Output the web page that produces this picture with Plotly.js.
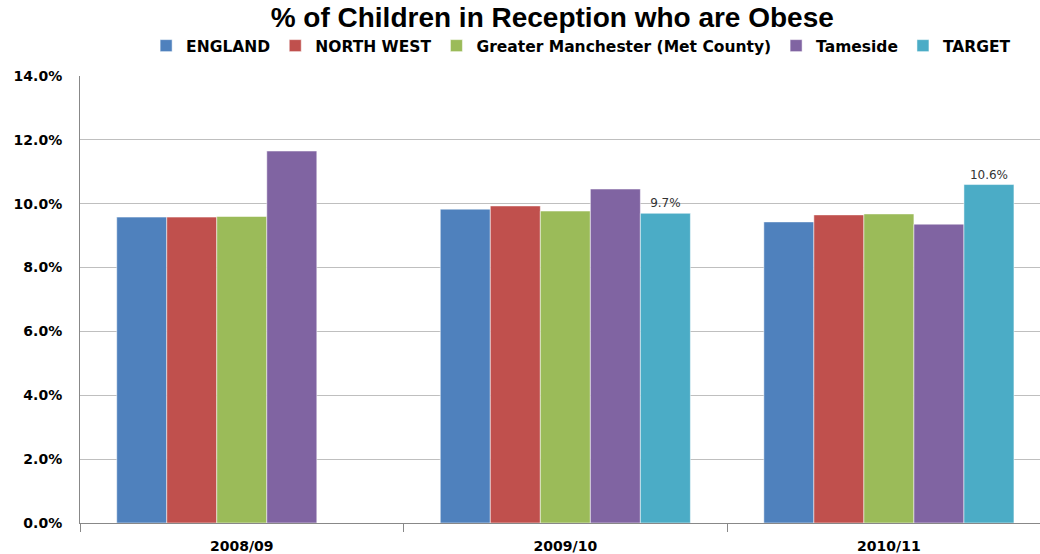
<!DOCTYPE html>
<html><head><meta charset="utf-8">
<script src="https://cdn.plot.ly/plotly-3.0.1.min.js"></script>
<style>html,body{margin:0;padding:0;background:#fff}#chart{width:1040px;height:554px}</style>
</head><body><div id="chart"></div>
<script>
const categories = ["2008/09", "2009/10", "2010/11"];
const seriesNames = ["ENGLAND", "NORTH WEST", "Greater Manchester (Met County)", "Tameside", "TARGET"];
const england = [9.58, 9.83, 9.43];
const northWest = [9.58, 9.93, 9.65];
const greaterManchester = [9.60, 9.77, 9.68];
const tameside = [11.65, 10.46, 9.36];
const target = [null, 9.7, 10.6];
const yTicks = [0, 2, 4, 6, 8, 10, 12, 14];

const colors = ["#4F81BD", "#C0504D", "#9BBB59", "#8064A2", "#4BACC6"];
const allSeries = [england, northWest, greaterManchester, tameside, target];
const fontFam = '"DejaVu Sans", "Liberation Sans", Arial, sans-serif';

const traces = allSeries.map((vals, i) => {
  const t = {
    type: 'bar', name: seriesNames[i], x: categories, y: vals,
    marker: {color: colors[i], line: {color: 'rgba(255,255,255,0.5)', width: 1}},
    hoverinfo: 'none'
  };
  if (i === 4) {
    t.text = vals.map(v => v == null ? '' : v.toFixed(1) + '%');
    t.textposition = 'outside';
    t.cliponaxis = false;
    t.textfont = {family: 'DejaVu Sans, sans-serif', size: 12, color: '#333'};
  }
  return t;
});

const layout = {
  width: 1040, height: 554,
  margin: {l: 80, r: 0, t: 76, b: 31, autoexpand: false},
  paper_bgcolor: '#fff', plot_bgcolor: '#fff',
  title: {text: '<b>% of Children in Reception who are Obese</b>', x: 0.531, xanchor: 'center', y: 0.969, yanchor: 'middle',
          font: {family: '"Liberation Sans", Arial, sans-serif', size: 28, color: '#000'}},
  barmode: 'group', bargap: 0.227, bargroupgap: 0,
  legend: {orientation: 'h', x: 0.522, xanchor: 'center', y: 1.067, yanchor: 'middle',
           font: {family: fontFam, size: 15.5, color: '#000', weight: 'bold'}, itemwidth: 30, traceorder: 'normal'},
  xaxis: {type: 'category', range: [-0.5, 2.467], tickson: 'boundaries', ticks: 'outside', ticklen: 8,
          tickcolor: '#888', showline: true, linecolor: '#888', linewidth: 1, ticklabelstandoff: 10,
          automargin: false,
          tickfont: {family: fontFam, size: 14, color: '#000', weight: 'bold'}, showgrid: false},
  yaxis: {range: [0, 14], tickvals: yTicks, ticktext: yTicks.map(v => v.toFixed(1) + '%'),
          showgrid: true, gridcolor: '#BFBFBF', gridwidth: 1, showline: true, linecolor: '#888',
          ticks: '', zeroline: false, ticklabelstandoff: 14, automargin: false,
          tickfont: {family: fontFam, size: 14, color: '#000', weight: 'bold'}},
  showlegend: true
};
Plotly.newPlot('chart', traces, layout, {displayModeBar: false, staticPlot: true});
</script></body></html>
